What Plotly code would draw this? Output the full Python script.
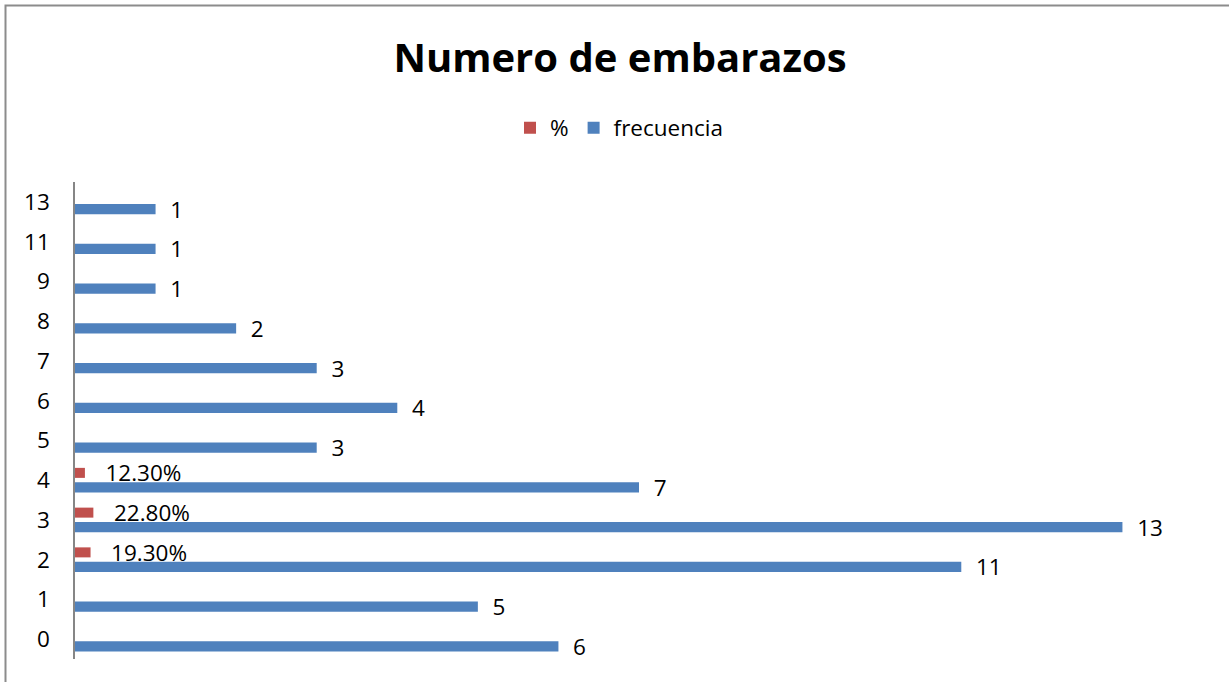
import plotly.graph_objects as go

categories = ["0", "1", "2", "3", "4", "5", "6", "7", "8", "9", "11", "13"]
frecuencia = [6, 5, 11, 13, 7, 3, 4, 3, 2, 1, 1, 1]
porcentaje = [None, None, 0.193, 0.228, 0.123, None, None, None, None, None, None, None]

BLUE = "#4F81BD"
RED = "#C0504D"
FONT = "Open Sans"
NB = "\u00a0"

fig = go.Figure()
fig.add_trace(go.Bar(
    y=categories, x=frecuencia, orientation="h", name="frecuencia",
    marker=dict(color=BLUE, line=dict(width=0)),
    texttemplate=NB * 2 + "%{x}", textposition="outside", constraintext="none",
    cliponaxis=False, textfont=dict(family=FONT, size=22.5, color="black"),
    legendrank=2, hoverinfo="skip",
))
fig.add_trace(go.Bar(
    y=categories, x=porcentaje, orientation="h", name="%",
    marker=dict(color=RED, line=dict(width=0)),
    texttemplate=NB * 3 + "%{x:.2%}", textposition="outside", constraintext="none",
    cliponaxis=False, textfont=dict(family=FONT, size=22.5, color="black"),
    legendrank=1, hoverinfo="skip",
))

L, R, T, B = 75, 26, 182, 23
W, H = 1229, 682
pw = W - L - R
ph = H - T - B

def px_x(p):
    return (p - L) / pw

def px_y(p):
    return (H - B - p) / ph

fig.update_layout(
    width=W, height=H,
    margin=dict(l=L, r=R, t=T, b=B),
    paper_bgcolor="white", plot_bgcolor="white",
    barmode="group", bargap=0.27, bargroupgap=0.31,
    font=dict(family=FONT, size=22, color="black"),
    title=dict(text="<b>Numero de embarazos</b>", x=620 / W, xanchor="center",
               y=1 - 58 / H, yanchor="middle", font=dict(family=FONT, size=40, color="black")),
    showlegend=True,
    legend=dict(orientation="h", x=px_x(619), xanchor="center", y=px_y(128), yanchor="middle",
                font=dict(family=FONT, size=22.5, color="black"), itemwidth=30,
                bgcolor="rgba(0,0,0,0)"),
    xaxis=dict(visible=False, range=[0, 14], showgrid=False, zeroline=False),
    yaxis=dict(type="category", categoryorder="array", categoryarray=categories,
               showline=True, linecolor="#868686", linewidth=1.5, showgrid=False,
               ticks="", ticklabelstandoff=19, tickfont=dict(family=FONT, size=22.5, color="black")),
    shapes=[dict(type="rect", xref="paper", yref="paper",
                 x0=px_x(5.5), x1=px_x(1300), y0=px_y(760), y1=px_y(5.5),
                 line=dict(color="#8C8C8C", width=2), fillcolor="rgba(0,0,0,0)", layer="below")],
)

fig.write_html("out.html")
